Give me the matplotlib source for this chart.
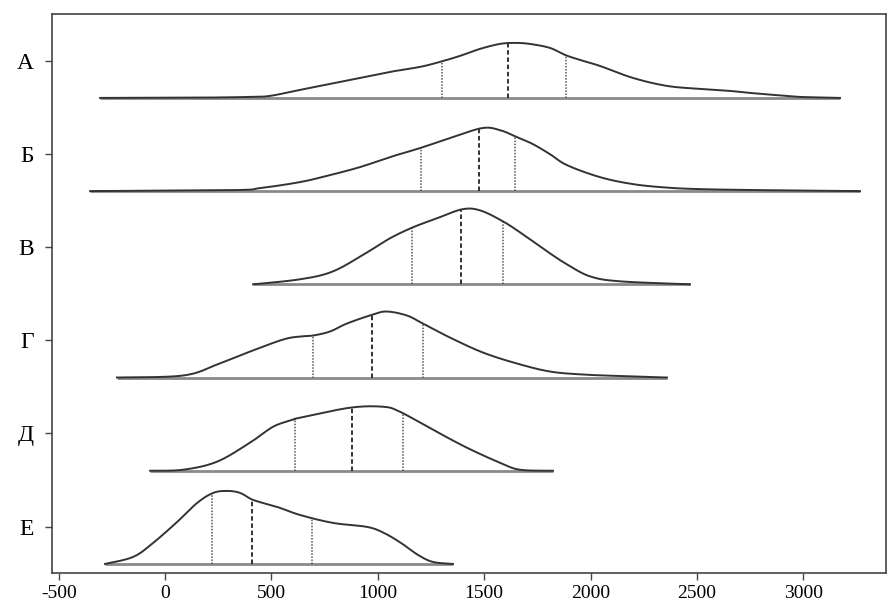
import numpy as np
import matplotlib.pyplot as plt

plt.rcParams['font.family'] = ['Liberation Serif', 'DejaVu Serif']

# groups, top to bottom
groups = ['А', 'Б', 'В', 'Г', 'Д', 'Е']

# density curves: x values and heights (pixels above baseline)
x_a = [-305, 164, 399, 493, 634, 775, 916, 1057, 1198, 1292, 1386, 1480, 1574, 1645,
       1715, 1809, 1880, 1950, 2044, 2199, 2359, 2514, 2655, 2749, 2890, 2984, 3172]
h_a = [0, 0.3, 1, 2, 8, 14, 20, 26, 31, 36, 42, 49, 54, 55,
       54, 50, 43, 38, 32, 20, 12, 9, 7, 5, 2.5, 1, 0]

x_b = [-352, 320, 446, 634, 775, 916, 1057, 1198, 1339, 1490, 1574, 1654, 1729, 1809,
       1889, 2044, 2199, 2359, 2514, 2796, 3266]
h_b = [0, 1, 3, 9, 16, 24, 34, 43, 53, 63, 61, 54, 47, 37,
       26, 14, 7, 3.5, 2, 1, 0]

x_c = [414, 634, 790, 950, 1057, 1165, 1278, 1396, 1480, 1588, 1682, 1809, 1889, 1997, 2138, 2467]
h_c = [0, 5, 13, 32, 46, 57, 66, 75, 74, 63, 50, 31, 20, 8, 3, 0]

x_d = [-226, 85, 245, 400, 555, 634, 695, 775, 855, 977, 1043, 1137, 1212, 1339,
       1494, 1654, 1809, 1964, 2138, 2359]
h_d = [0, 2, 13, 26, 38, 41, 42, 46, 54, 63, 66, 62, 54, 40,
       25, 14, 6, 3, 1.5, 0]

x_e = [-70, 85, 244, 399, 508, 601, 634, 869, 1024, 1104, 1259, 1419, 1574, 1668, 1823]
h_e = [0, 1, 9, 28, 44, 51, 53, 63, 64, 59, 41, 23, 8, 1, 0]

x_f = [-282, -150, -56, 57, 151, 226, 292, 353, 414, 527, 634, 790, 950, 1029, 1109, 1189, 1259, 1353]
h_f = [0, 7, 21, 42, 61, 71, 73, 71, 64, 57, 49, 41, 37, 31, 21, 9, 2, 0]

curves_x = [x_a, x_b, x_c, x_d, x_e, x_f]
curves_h = [h_a, h_b, h_c, h_d, h_e, h_f]

# quartiles: Q1, median, Q3
quart_a = [1300, 1610, 1885]
quart_b = [1203, 1476, 1645]
quart_c = [1161, 1391, 1588]
quart_d = [695, 973, 1212]
quart_e = [611, 879, 1118]
quart_f = [221, 409, 691]
quartiles = [quart_a, quart_b, quart_c, quart_d, quart_e, quart_f]

px_per_row = 93.2
label_offset = 0.40


def smooth_line(xs, ys, steps=24):
    # catmull-rom through the read points, only for drawing
    px = np.array(xs, float)
    py = np.array(ys, float)
    px = np.concatenate([[px[0]], px, [px[-1]]])
    py = np.concatenate([[py[0]], py, [py[-1]]])
    out_x, out_y = [], []
    t = np.linspace(0, 1, steps, endpoint=False)
    for i in range(1, len(px) - 2):
        p0, p1, p2, p3 = i - 1, i, i + 1, i + 2
        c1x = px[p1] + (px[p2] - px[p0]) / 6
        c1y = py[p1] + (py[p2] - py[p0]) / 6
        c2x = px[p2] - (px[p3] - px[p1]) / 6
        c2y = py[p2] - (py[p3] - py[p1]) / 6
        b = [(1 - t) ** 3, 3 * (1 - t) ** 2 * t, 3 * (1 - t) * t ** 2, t ** 3]
        out_x.extend(b[0] * px[p1] + b[1] * c1x + b[2] * c2x + b[3] * px[p2])
        out_y.extend(b[0] * py[p1] + b[1] * c1y + b[2] * c2y + b[3] * py[p2])
    out_x.append(px[-2])
    out_y.append(py[-2])
    return np.array(out_x), np.maximum(np.array(out_y), 0)


fig = plt.figure(figsize=(8.88, 6.10), dpi=100)
ax = fig.add_axes([0.0586, 0.0607, 0.939, 0.9163])

n = len(groups)
for i, name in enumerate(groups):
    base = n - 1 - i
    xs = curves_x[i]
    hs = [h / px_per_row for h in curves_h[i]]
    sx, sy = smooth_line(xs, hs)
    ax.plot([xs[0], xs[-1]], [base, base], color='#8a8a8a', lw=2.0, solid_capstyle='butt', zorder=2)
    ax.plot(sx, base + sy, color='#333333', lw=1.4, zorder=3)
    for j, q in enumerate(quartiles[i]):
        top = base + np.interp(q, sx, sy)
        if j == 1:
            ax.plot([q, q], [base, top], color='#222222', lw=1.3, ls=(0, (2.5, 1.5)), zorder=2)
        else:
            ax.plot([q, q], [base, top], color='#555555', lw=1.1, ls=(0, (1, 1)), zorder=2)

ax.set_xlim(-531, 3388)
ax.set_ylim(-0.097, 5.90)
ax.set_xticks([-500, 0, 500, 1000, 1500, 2000, 2500, 3000])
ax.set_xticklabels(['-500', '0', '500', '1000', '1500', '2000', '2500', '3000'])
ax.set_yticks([n - 1 - i + label_offset for i in range(n)])
ax.set_yticklabels(groups)
ax.tick_params(axis='both', labelsize=14, length=5, width=1.0, color='#444444')
ax.tick_params(axis='y', labelsize=17, pad=8)
for s in ax.spines.values():
    s.set_color('#444444')
    s.set_linewidth(1.2)

plt.savefig('out.png', dpi=100)
